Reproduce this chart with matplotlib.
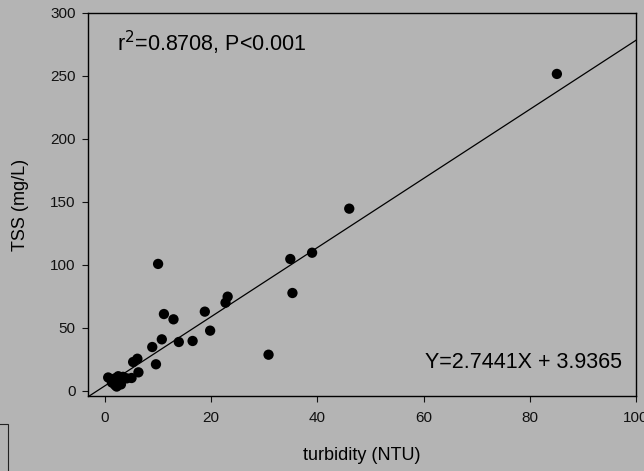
import numpy as np
import matplotlib.pyplot as plt
from matplotlib.patches import Rectangle

plt.rcParams["font.family"] = ["Liberation Sans", "DejaVu Sans"]

# values
turbidity = [85.1, 46.0, 39.0, 34.9, 35.3, 23.1, 22.7, 10.0, 11.1, 12.9,
             18.8, 19.8, 30.8, 10.7, 8.9, 13.9, 16.5, 9.6, 6.1, 5.3,
             6.3, 5.0, 0.6, 1.6, 2.5, 3.4, 1.9, 2.8, 4.1, 1.3, 2.2, 2.0, 3.0]
tss = [251.6, 144.6, 109.6, 104.6, 77.6, 74.7, 69.9, 100.7, 60.9, 56.7,
       62.8, 47.7, 28.6, 40.8, 34.7, 38.7, 39.5, 21.0, 25.4, 22.8,
       14.6, 10.1, 10.5, 9.0, 11.5, 11.0, 4.5, 7.2, 9.8, 6.5, 3.3, 10.0, 5.0]

slope = 2.7441
intercept = 3.9365
x_ticks = [0, 20, 40, 60, 80, 100]
y_ticks = [0, 50, 100, 150, 200, 250, 300]

bg = "#b4b4b4"

fig = plt.figure(figsize=(6.44, 4.71), dpi=100, facecolor=bg)
ax = fig.add_axes([88 / 644, 1 - 396 / 471, (636 - 88) / 644, (396 - 13) / 471])
ax.set_facecolor(bg)

xlim = (-3.2, 100)
ylim = (-4.2, 300)

xl = np.array(xlim)
ax.plot(xl, slope * xl + intercept, color="black", lw=0.9, zorder=2)
ax.scatter(turbidity, tss, s=55, color="black", edgecolors="none", zorder=3)

ax.set_xlim(xlim)
ax.set_ylim(ylim)
ax.set_xticks(x_ticks)
ax.set_yticks(y_ticks)
ax.tick_params(direction="out", length=4, width=0.8, labelsize=11, colors="#111111")
ax.tick_params(axis="x", pad=7)
ax.tick_params(axis="y", pad=5)
for sp in ax.spines.values():
    sp.set_color("black")
    sp.set_linewidth(1)

ax.set_xlabel("turbidity (NTU)", fontsize=13, labelpad=16)
ax.set_ylabel("TSS (mg/L)", fontsize=13, labelpad=15)

ax.text(2.3, 276, r"r$^2$=0.8708, P<0.001", fontsize=15.5, va="center", ha="left")
ax.text(97.4, 22.8, "Y=2.7441X + 3.9365", fontsize=15.5, va="center", ha="right")

# leftover frame in the lower-left corner
fig.patches.append(Rectangle((-0.02, -0.02), 0.02 + 8 / 644, 0.02 + 1 - 424 / 471,
                             transform=fig.transFigure, fill=False,
                             edgecolor="#222222", lw=0.8))

fig.savefig("out.png", dpi=100, facecolor=bg)
